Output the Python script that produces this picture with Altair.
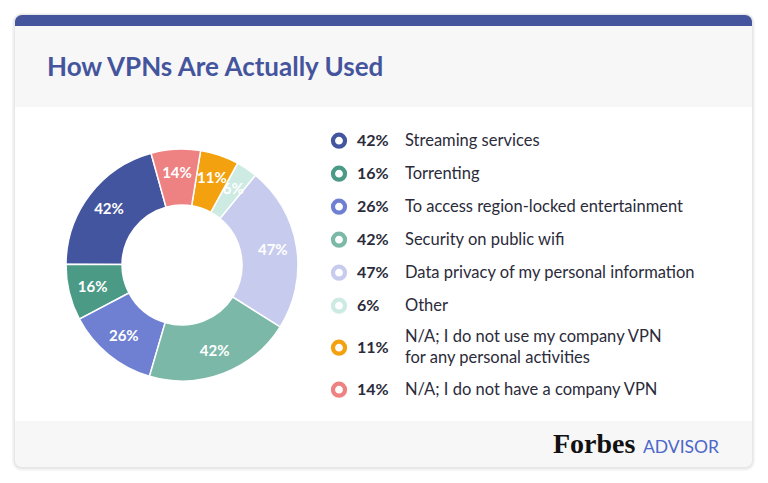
import math
import altair as alt
import pandas as pd

# ---- data ----
categories = [
    "Streaming services",
    "Torrenting",
    "To access region-locked entertainment",
    "Security on public wifi",
    "Data privacy of my personal information",
    "Other",
    "N/A; I do not use my company VPN for any personal activities",
    "N/A; I do not have a company VPN",
]
legend_labels = [
    "Streaming services",
    "Torrenting",
    "To access region-locked entertainment",
    "Security on public wifi",
    "Data privacy of my personal information",
    "Other",
    "N/A; I do not use my company VPN\nfor any personal activities",
    "N/A; I do not have a company VPN",
]
values = [42, 16, 26, 42, 47, 6, 11, 14]
colors = ["#44559f", "#4a9a86", "#6f80d3", "#7bb8a8", "#c7ccee", "#cdebe3", "#f4a10f", "#ee8181"]

df = pd.DataFrame({
    "cat": categories,
    "label": legend_labels,
    "value": values,
    "idx": list(range(len(values))),
    "pct": [f"{v}%" for v in values],
})

FONT = "Lato"
TEXT = "#2b2b3b"
CX, CY = 182, 265
start = -0.27
LH = 21.5

color_scale = alt.Scale(domain=categories, range=colors)
theta_enc = alt.Theta("value:Q", stack=True, scale=alt.Scale(range=[start, start + 2 * math.pi]))
order_enc = alt.Order("idx:Q", sort="descending")
yscale = alt.Scale(domain=[0, 483], range=[0, 483])

one = alt.Data(values=[{}])


def rect(x, x2, y, y2, fill, **kw):
    return alt.Chart(one).mark_rect(fill=fill, **kw).encode(
        x=alt.value(x), x2=alt.value(x2), y=alt.value(y), y2=alt.value(y2)
    )


shadow1 = rect(12, 755, 13, 471, "#000000", opacity=0.04, cornerRadius=10)
shadow2 = rect(13.5, 753.5, 14, 469, "#000000", opacity=0.05, cornerRadius=8)
card = rect(15, 752, 15, 467, "#f7f7f7", cornerRadius=7)
topbar = rect(15, 752, 15, 34, "#44559e", cornerRadius=7)
header = rect(15, 752, 26, 107, "#f7f7f7")
body = rect(15, 752, 107, 421, "#ffffff")

title = alt.Chart(one).mark_text(
    text="How VPNs Are Actually Used", align="left", baseline="alphabetic",
    font=FONT, fontSize=26, fontWeight="bold", color="#45559d"
).encode(x=alt.value(47), y=alt.value(76))

forbes = alt.Chart(one).mark_text(
    text="Forbes", align="left", baseline="alphabetic",
    font="Liberation Serif", fontSize=28, fontWeight="bold", color="#111111"
).encode(x=alt.value(553), y=alt.value(453))

advisor = alt.Chart(one).mark_text(
    text="ADVISOR", align="left", baseline="alphabetic",
    font=FONT, fontSize=17.5, color="#4c68c9"
).encode(x=alt.value(643), y=alt.value(453))

base = alt.Chart(df)

arcs = base.mark_arc(innerRadius=60, outerRadius=116, stroke="white", strokeWidth=1.5).encode(
    theta=theta_enc,
    color=alt.Color("cat:N", scale=color_scale, legend=None),
    order=order_enc,
    x=alt.value(CX), y=alt.value(CY),
)

slice_labels = base.mark_text(
    radius=92, font=FONT, fontSize=15, fontWeight="bold", color="white"
).encode(
    theta=theta_enc, order=order_enc, detail="cat:N", text="pct:N",
    x=alt.value(CX), y=alt.value(CY),
)

leg = base.transform_calculate(
    ly="140.7 + 33*datum.idx + max(0, datum.idx - 5)*9"
).transform_calculate(
    lyl=f"datum.ly - (indexof(datum.label, '\\n') >= 0 ? {LH / 2} : 0)"
)

rings = leg.mark_point(shape="circle", filled=False, strokeWidth=4.2, size=145, opacity=1).encode(
    x=alt.value(339),
    y=alt.Y("ly:Q", scale=yscale, axis=None),
    color=alt.Color("cat:N", scale=color_scale, legend=None),
)

pcts = leg.mark_text(
    align="left", baseline="middle", font=FONT, fontSize=16, fontWeight="bold", color=TEXT
).encode(x=alt.value(357), y=alt.Y("ly:Q", scale=yscale, axis=None), text="pct:N")

labels = leg.mark_text(
    align="left", baseline="middle", font=FONT, fontSize=16.5, color=TEXT,
    lineBreak="\n", lineHeight=LH
).encode(x=alt.value(405), y=alt.Y("lyl:Q", scale=yscale, axis=None), text="label:N")

chart = alt.layer(
    shadow1, shadow2, card, topbar, header, body, title, forbes, advisor,
    arcs, slice_labels, rings, pcts, labels
).properties(
    width=768, height=483, autosize="none", padding=0, background="white"
).configure_view(stroke=None)

chart.save("out.html", embed_options={"renderer": "svg", "actions": False})
